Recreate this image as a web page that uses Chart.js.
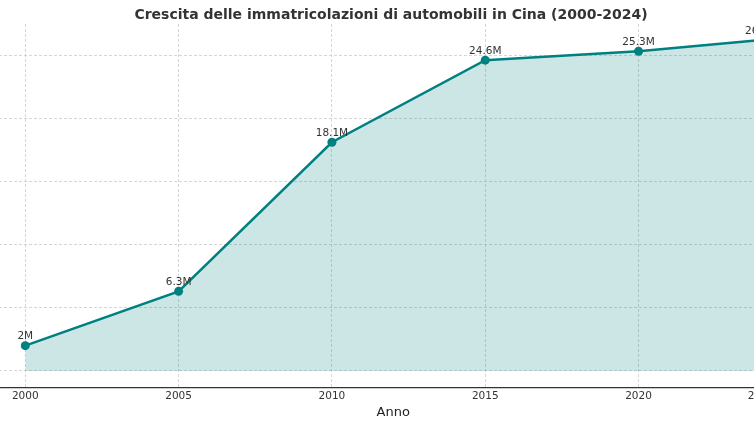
<!DOCTYPE html>
<html>
<head>
<meta charset="utf-8">
<script src="https://cdn.jsdelivr.net/npm/chart.js@4"></script>
<style>
  html, body { margin: 0; padding: 0; background: #fff; overflow: hidden; }
  body { width: 754px; height: 424px; position: relative; }
  #contenitore { position: absolute; left: -16.5px; top: 0; width: 830px; height: 424px; }
</style>
</head>
<body>
<div id="contenitore"><canvas id="grafico"></canvas></div>
<script>
const anni = [2000, 2005, 2010, 2015, 2020, 2024];
const immatricolazioni = [2.0, 6.3, 18.1, 24.6, 25.3, 26.2];
const etichette = ["2M", "6.3M", "18.1M", "24.6M", "25.3M", "26.2M"];
const tickAnni = [2000, 2005, 2010, 2015, 2020, 2024];
const tickValori = [0, 5, 10, 15, 20, 25];

const FONT = "'DejaVu Sans', sans-serif";

// scrive i valori sopra ogni punto
const etichettePunti = {
    id: "etichettePunti",
    afterDatasetsDraw(chart) {
        const ctx = chart.ctx;
        const meta = chart.getDatasetMeta(0);
        ctx.save();
        ctx.font = "10.5px " + FONT;
        ctx.fillStyle = "#333";
        ctx.textAlign = "center";
        ctx.textBaseline = "middle";
        meta.data.forEach((p, i) => {
            ctx.fillText(etichette[i], p.x, p.y - 9);
        });
        ctx.restore();
    }
};

const ctx = document.getElementById("grafico").getContext("2d");
new Chart(ctx, {
    type: "line",
    data: {
        datasets: [{
            data: anni.map((a, i) => ({ x: a, y: immatricolazioni[i] })),
            borderColor: "#008080",
            backgroundColor: "rgba(0,128,128,0.2)",
            borderWidth: 2.5,
            pointRadius: 4.5,
            pointBackgroundColor: "#008080",
            pointBorderColor: "#008080",
            pointBorderWidth: 0,
            tension: 0,
            fill: "origin"
        }]
    },
    options: {
        responsive: true,
        maintainAspectRatio: false,
        animation: false,
        layout: { padding: { left: 0, right: 16, top: 0, bottom: 3.8 } },
        plugins: {
            legend: { display: false },
            tooltip: { enabled: false },
            title: {
                display: true,
                text: "Crescita delle immatricolazioni di automobili in Cina (2000-2024)",
                color: "#333",
                font: { family: FONT, size: 14, weight: "bold" },
                padding: { top: 7, bottom: 0.2 }
            }
        },
        scales: {
            x: {
                type: "linear",
                min: 1998.8,
                max: 2025.2,
                afterBuildTicks: s => { s.ticks = tickAnni.map(v => ({ value: v })); },
                ticks: {
                    color: "#333",
                    font: { family: FONT, size: 10.5 },
                    padding: 2,
                    maxRotation: 0,
                    callback: v => String(v)
                },
                grid: { color: "#cccccc", lineWidth: 0.8, drawTicks: false },
                border: { color: "#333", width: 1.2, dash: [3, 2] },
                title: {
                    display: true,
                    text: "Anno",
                    color: "#222",
                    font: { family: FONT, size: 13 },
                    padding: { top: 0, bottom: 0 }
                }
            },
            y: {
                min: -1.35,
                max: 27.46,
                afterBuildTicks: s => { s.ticks = tickValori.map(v => ({ value: v })); },
                ticks: { display: false },
                grid: { color: "#cccccc", lineWidth: 0.8, drawTicks: false },
                border: { display: false, dash: [3, 2] }
            }
        }
    },
    plugins: [etichettePunti]
});
</script>
</body>
</html>
